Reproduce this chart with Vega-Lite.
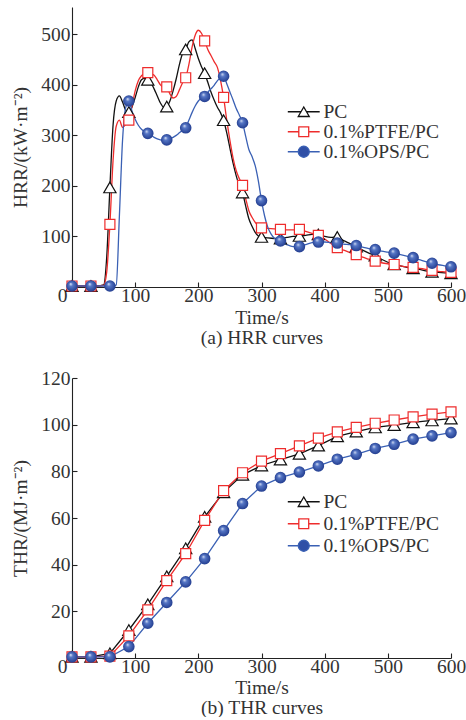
{
  "$schema": "https://vega.github.io/schema/vega-lite/v6.json",
  "padding": {"left": 10, "top": 7, "right": 0, "bottom": 0},
  "bounds": "flush",
  "spacing": 91,
  "config": {
    "font": "Liberation Serif",
    "view": {"stroke": null},
    "style": {"guide-title": {"fontWeight": "normal"}},
    "axis": {
      "grid": false,
      "domainColor": "#222",
      "domainWidth": 1.1,
      "tickColor": "#222",
      "tickWidth": 1.1,
      "tickSize": -5,
      "labelFont": "Liberation Serif",
      "labelFontSize": 19.5,
      "labelColor": "#333",
      "labelOverlap": false,
      "labelFlush": false,
      "titleFont": "Liberation Serif",
      "titleFontSize": 19.5,
      "titleFontWeight": "normal",
      "titleColor": "#333"
    },
    "legend": {
      "labelFont": "Liberation Serif",
      "labelFontSize": 19.5,
      "labelColor": "#333",
      "padding": 0
    }
  },
  "resolve": {"scale": {"color": "independent"}, "legend": {"color": "independent"}},
  "datasets": {
    "hrr": [
      {"s":"PC","t":0,"v":2},{"s":"PC","t":10,"v":2},{"s":"PC","t":20,"v":2},{"s":"PC","t":30,"v":2},{"s":"PC","t":40,"v":2},{"s":"PC","t":50,"v":4},{"s":"PC","t":55,"v":60},{"s":"PC","t":60,"v":197},{"s":"PC","t":65,"v":320},{"s":"PC","t":70,"v":368},{"s":"PC","t":75,"v":378},{"s":"PC","t":80,"v":366},{"s":"PC","t":85,"v":350},{"s":"PC","t":90,"v":346},{"s":"PC","t":95,"v":356},{"s":"PC","t":100,"v":375},{"s":"PC","t":105,"v":396},{"s":"PC","t":110,"v":410},{"s":"PC","t":115,"v":413},{"s":"PC","t":120,"v":410},{"s":"PC","t":125,"v":404},{"s":"PC","t":130,"v":392},{"s":"PC","t":135,"v":378},{"s":"PC","t":140,"v":364},{"s":"PC","t":145,"v":356},{"s":"PC","t":150,"v":357},{"s":"PC","t":155,"v":368},{"s":"PC","t":160,"v":388},{"s":"PC","t":165,"v":412},{"s":"PC","t":170,"v":440},{"s":"PC","t":175,"v":462},{"s":"PC","t":180,"v":470},{"s":"PC","t":185,"v":485},{"s":"PC","t":190,"v":489},{"s":"PC","t":195,"v":472},{"s":"PC","t":200,"v":452},{"s":"PC","t":205,"v":436},{"s":"PC","t":210,"v":423},{"s":"PC","t":215,"v":405},{"s":"PC","t":220,"v":386},{"s":"PC","t":225,"v":370},{"s":"PC","t":230,"v":356},{"s":"PC","t":235,"v":345},{"s":"PC","t":240,"v":330},{"s":"PC","t":245,"v":305},{"s":"PC","t":250,"v":275},{"s":"PC","t":255,"v":245},{"s":"PC","t":260,"v":220},{"s":"PC","t":265,"v":200},{"s":"PC","t":270,"v":187},{"s":"PC","t":275,"v":160},{"s":"PC","t":280,"v":135},{"s":"PC","t":285,"v":120},{"s":"PC","t":290,"v":108},{"s":"PC","t":295,"v":101},{"s":"PC","t":300,"v":99},{"s":"PC","t":310,"v":97},{"s":"PC","t":320,"v":96},{"s":"PC","t":330,"v":96},{"s":"PC","t":340,"v":98},{"s":"PC","t":350,"v":100},{"s":"PC","t":360,"v":101},{"s":"PC","t":370,"v":102},{"s":"PC","t":380,"v":104},{"s":"PC","t":390,"v":104},{"s":"PC","t":400,"v":100},{"s":"PC","t":410,"v":98},{"s":"PC","t":420,"v":99},{"s":"PC","t":430,"v":92},{"s":"PC","t":440,"v":86},{"s":"PC","t":450,"v":80},{"s":"PC","t":460,"v":73},{"s":"PC","t":470,"v":67},{"s":"PC","t":480,"v":62},{"s":"PC","t":490,"v":55},{"s":"PC","t":500,"v":49},{"s":"PC","t":510,"v":45},{"s":"PC","t":520,"v":42},{"s":"PC","t":530,"v":39},{"s":"PC","t":540,"v":37},{"s":"PC","t":550,"v":35},{"s":"PC","t":560,"v":32},{"s":"PC","t":570,"v":30},{"s":"PC","t":580,"v":29},{"s":"PC","t":590,"v":28},{"s":"PC","t":600,"v":27},
      {"s":"0.1%PTFE/PC","t":0,"v":2},{"s":"0.1%PTFE/PC","t":10,"v":2},{"s":"0.1%PTFE/PC","t":20,"v":2},{"s":"0.1%PTFE/PC","t":30,"v":2},{"s":"0.1%PTFE/PC","t":40,"v":2},{"s":"0.1%PTFE/PC","t":50,"v":3},{"s":"0.1%PTFE/PC","t":55,"v":30},{"s":"0.1%PTFE/PC","t":60,"v":124},{"s":"0.1%PTFE/PC","t":65,"v":250},{"s":"0.1%PTFE/PC","t":70,"v":318},{"s":"0.1%PTFE/PC","t":75,"v":330},{"s":"0.1%PTFE/PC","t":80,"v":316},{"s":"0.1%PTFE/PC","t":85,"v":322},{"s":"0.1%PTFE/PC","t":90,"v":330},{"s":"0.1%PTFE/PC","t":95,"v":358},{"s":"0.1%PTFE/PC","t":100,"v":388},{"s":"0.1%PTFE/PC","t":105,"v":408},{"s":"0.1%PTFE/PC","t":110,"v":418},{"s":"0.1%PTFE/PC","t":115,"v":422},{"s":"0.1%PTFE/PC","t":120,"v":424},{"s":"0.1%PTFE/PC","t":125,"v":422},{"s":"0.1%PTFE/PC","t":130,"v":419},{"s":"0.1%PTFE/PC","t":135,"v":410},{"s":"0.1%PTFE/PC","t":140,"v":400},{"s":"0.1%PTFE/PC","t":145,"v":395},{"s":"0.1%PTFE/PC","t":150,"v":396},{"s":"0.1%PTFE/PC","t":155,"v":382},{"s":"0.1%PTFE/PC","t":160,"v":374},{"s":"0.1%PTFE/PC","t":165,"v":377},{"s":"0.1%PTFE/PC","t":170,"v":390},{"s":"0.1%PTFE/PC","t":175,"v":404},{"s":"0.1%PTFE/PC","t":180,"v":414},{"s":"0.1%PTFE/PC","t":185,"v":440},{"s":"0.1%PTFE/PC","t":190,"v":474},{"s":"0.1%PTFE/PC","t":195,"v":498},{"s":"0.1%PTFE/PC","t":200,"v":508},{"s":"0.1%PTFE/PC","t":205,"v":502},{"s":"0.1%PTFE/PC","t":210,"v":487},{"s":"0.1%PTFE/PC","t":215,"v":470},{"s":"0.1%PTFE/PC","t":220,"v":458},{"s":"0.1%PTFE/PC","t":225,"v":446},{"s":"0.1%PTFE/PC","t":230,"v":435},{"s":"0.1%PTFE/PC","t":235,"v":410},{"s":"0.1%PTFE/PC","t":240,"v":375},{"s":"0.1%PTFE/PC","t":245,"v":330},{"s":"0.1%PTFE/PC","t":250,"v":290},{"s":"0.1%PTFE/PC","t":255,"v":255},{"s":"0.1%PTFE/PC","t":260,"v":230},{"s":"0.1%PTFE/PC","t":265,"v":214},{"s":"0.1%PTFE/PC","t":270,"v":201},{"s":"0.1%PTFE/PC","t":275,"v":175},{"s":"0.1%PTFE/PC","t":280,"v":151},{"s":"0.1%PTFE/PC","t":285,"v":138},{"s":"0.1%PTFE/PC","t":290,"v":128},{"s":"0.1%PTFE/PC","t":295,"v":121},{"s":"0.1%PTFE/PC","t":300,"v":117},{"s":"0.1%PTFE/PC","t":310,"v":116},{"s":"0.1%PTFE/PC","t":320,"v":115},{"s":"0.1%PTFE/PC","t":330,"v":114},{"s":"0.1%PTFE/PC","t":340,"v":113},{"s":"0.1%PTFE/PC","t":350,"v":113},{"s":"0.1%PTFE/PC","t":360,"v":114},{"s":"0.1%PTFE/PC","t":370,"v":110},{"s":"0.1%PTFE/PC","t":380,"v":106},{"s":"0.1%PTFE/PC","t":390,"v":102},{"s":"0.1%PTFE/PC","t":400,"v":95},{"s":"0.1%PTFE/PC","t":410,"v":86},{"s":"0.1%PTFE/PC","t":420,"v":78},{"s":"0.1%PTFE/PC","t":430,"v":73},{"s":"0.1%PTFE/PC","t":440,"v":68},{"s":"0.1%PTFE/PC","t":450,"v":64},{"s":"0.1%PTFE/PC","t":460,"v":59},{"s":"0.1%PTFE/PC","t":470,"v":55},{"s":"0.1%PTFE/PC","t":480,"v":51},{"s":"0.1%PTFE/PC","t":490,"v":48},{"s":"0.1%PTFE/PC","t":500,"v":46},{"s":"0.1%PTFE/PC","t":510,"v":44.5},{"s":"0.1%PTFE/PC","t":520,"v":42},{"s":"0.1%PTFE/PC","t":530,"v":40},{"s":"0.1%PTFE/PC","t":540,"v":39},{"s":"0.1%PTFE/PC","t":550,"v":37},{"s":"0.1%PTFE/PC","t":560,"v":35},{"s":"0.1%PTFE/PC","t":570,"v":33},{"s":"0.1%PTFE/PC","t":580,"v":31},{"s":"0.1%PTFE/PC","t":590,"v":30},{"s":"0.1%PTFE/PC","t":600,"v":29},
      {"s":"0.1%OPS/PC","t":0,"v":2},{"s":"0.1%OPS/PC","t":10,"v":2},{"s":"0.1%OPS/PC","t":20,"v":2},{"s":"0.1%OPS/PC","t":30,"v":2},{"s":"0.1%OPS/PC","t":40,"v":2},{"s":"0.1%OPS/PC","t":50,"v":2},{"s":"0.1%OPS/PC","t":60,"v":2},{"s":"0.1%OPS/PC","t":65,"v":2},{"s":"0.1%OPS/PC","t":70,"v":4},{"s":"0.1%OPS/PC","t":75,"v":140},{"s":"0.1%OPS/PC","t":80,"v":290},{"s":"0.1%OPS/PC","t":85,"v":355},{"s":"0.1%OPS/PC","t":90,"v":368},{"s":"0.1%OPS/PC","t":95,"v":348},{"s":"0.1%OPS/PC","t":100,"v":332},{"s":"0.1%OPS/PC","t":105,"v":320},{"s":"0.1%OPS/PC","t":110,"v":312},{"s":"0.1%OPS/PC","t":115,"v":307},{"s":"0.1%OPS/PC","t":120,"v":304},{"s":"0.1%OPS/PC","t":125,"v":300},{"s":"0.1%OPS/PC","t":130,"v":296},{"s":"0.1%OPS/PC","t":135,"v":293},{"s":"0.1%OPS/PC","t":140,"v":291},{"s":"0.1%OPS/PC","t":145,"v":290},{"s":"0.1%OPS/PC","t":150,"v":291},{"s":"0.1%OPS/PC","t":155,"v":293},{"s":"0.1%OPS/PC","t":160,"v":296},{"s":"0.1%OPS/PC","t":165,"v":300},{"s":"0.1%OPS/PC","t":170,"v":305},{"s":"0.1%OPS/PC","t":175,"v":310},{"s":"0.1%OPS/PC","t":180,"v":315},{"s":"0.1%OPS/PC","t":185,"v":330},{"s":"0.1%OPS/PC","t":190,"v":345},{"s":"0.1%OPS/PC","t":195,"v":358},{"s":"0.1%OPS/PC","t":200,"v":368},{"s":"0.1%OPS/PC","t":205,"v":374},{"s":"0.1%OPS/PC","t":210,"v":377},{"s":"0.1%OPS/PC","t":215,"v":385},{"s":"0.1%OPS/PC","t":220,"v":392},{"s":"0.1%OPS/PC","t":225,"v":399},{"s":"0.1%OPS/PC","t":230,"v":408},{"s":"0.1%OPS/PC","t":235,"v":414},{"s":"0.1%OPS/PC","t":240,"v":417},{"s":"0.1%OPS/PC","t":245,"v":402},{"s":"0.1%OPS/PC","t":250,"v":386},{"s":"0.1%OPS/PC","t":255,"v":370},{"s":"0.1%OPS/PC","t":260,"v":353},{"s":"0.1%OPS/PC","t":265,"v":340},{"s":"0.1%OPS/PC","t":270,"v":325},{"s":"0.1%OPS/PC","t":275,"v":298},{"s":"0.1%OPS/PC","t":280,"v":272},{"s":"0.1%OPS/PC","t":285,"v":258},{"s":"0.1%OPS/PC","t":290,"v":240},{"s":"0.1%OPS/PC","t":295,"v":210},{"s":"0.1%OPS/PC","t":300,"v":171},{"s":"0.1%OPS/PC","t":305,"v":140},{"s":"0.1%OPS/PC","t":310,"v":118},{"s":"0.1%OPS/PC","t":315,"v":105},{"s":"0.1%OPS/PC","t":320,"v":97},{"s":"0.1%OPS/PC","t":325,"v":93},{"s":"0.1%OPS/PC","t":330,"v":91},{"s":"0.1%OPS/PC","t":340,"v":84},{"s":"0.1%OPS/PC","t":350,"v":80},{"s":"0.1%OPS/PC","t":360,"v":80},{"s":"0.1%OPS/PC","t":370,"v":84},{"s":"0.1%OPS/PC","t":380,"v":88},{"s":"0.1%OPS/PC","t":390,"v":89},{"s":"0.1%OPS/PC","t":400,"v":89},{"s":"0.1%OPS/PC","t":410,"v":88},{"s":"0.1%OPS/PC","t":420,"v":87},{"s":"0.1%OPS/PC","t":430,"v":85},{"s":"0.1%OPS/PC","t":440,"v":84},{"s":"0.1%OPS/PC","t":450,"v":82},{"s":"0.1%OPS/PC","t":460,"v":79},{"s":"0.1%OPS/PC","t":470,"v":76},{"s":"0.1%OPS/PC","t":480,"v":74},{"s":"0.1%OPS/PC","t":490,"v":71},{"s":"0.1%OPS/PC","t":500,"v":69},{"s":"0.1%OPS/PC","t":510,"v":67},{"s":"0.1%OPS/PC","t":520,"v":64},{"s":"0.1%OPS/PC","t":530,"v":61},{"s":"0.1%OPS/PC","t":540,"v":58},{"s":"0.1%OPS/PC","t":550,"v":54},{"s":"0.1%OPS/PC","t":560,"v":50},{"s":"0.1%OPS/PC","t":570,"v":47},{"s":"0.1%OPS/PC","t":580,"v":44},{"s":"0.1%OPS/PC","t":590,"v":42},{"s":"0.1%OPS/PC","t":600,"v":40}
    ],
    "thr": [
      {"s":"PC","t":0,"v":0.5},{"s":"PC","t":30,"v":0.5},{"s":"PC","t":60,"v":2},{"s":"PC","t":90,"v":12},{"s":"PC","t":120,"v":23},{"s":"PC","t":150,"v":35},{"s":"PC","t":180,"v":47},{"s":"PC","t":210,"v":60.5},{"s":"PC","t":240,"v":71},{"s":"PC","t":270,"v":78.5},{"s":"PC","t":300,"v":82.5},{"s":"PC","t":330,"v":85},{"s":"PC","t":360,"v":87.5},{"s":"PC","t":390,"v":91},{"s":"PC","t":420,"v":95},{"s":"PC","t":450,"v":97},{"s":"PC","t":480,"v":98.8},{"s":"PC","t":510,"v":99.8},{"s":"PC","t":540,"v":101},{"s":"PC","t":570,"v":101.8},{"s":"PC","t":600,"v":102.6},
      {"s":"0.1%PTFE/PC","t":0,"v":0.5},{"s":"0.1%PTFE/PC","t":30,"v":0.5},{"s":"0.1%PTFE/PC","t":60,"v":0.8},{"s":"0.1%PTFE/PC","t":90,"v":9.5},{"s":"0.1%PTFE/PC","t":120,"v":20.6},{"s":"0.1%PTFE/PC","t":150,"v":33.2},{"s":"0.1%PTFE/PC","t":180,"v":44.7},{"s":"0.1%PTFE/PC","t":210,"v":59},{"s":"0.1%PTFE/PC","t":240,"v":71.7},{"s":"0.1%PTFE/PC","t":270,"v":79.4},{"s":"0.1%PTFE/PC","t":300,"v":84.4},{"s":"0.1%PTFE/PC","t":330,"v":87.6},{"s":"0.1%PTFE/PC","t":360,"v":90.9},{"s":"0.1%PTFE/PC","t":390,"v":94.2},{"s":"0.1%PTFE/PC","t":420,"v":96.9},{"s":"0.1%PTFE/PC","t":450,"v":98.8},{"s":"0.1%PTFE/PC","t":480,"v":100.6},{"s":"0.1%PTFE/PC","t":510,"v":102},{"s":"0.1%PTFE/PC","t":540,"v":103.3},{"s":"0.1%PTFE/PC","t":570,"v":104.5},{"s":"0.1%PTFE/PC","t":600,"v":105.5},
      {"s":"0.1%OPS/PC","t":0,"v":0.5},{"s":"0.1%OPS/PC","t":30,"v":0.5},{"s":"0.1%OPS/PC","t":60,"v":0.5},{"s":"0.1%OPS/PC","t":90,"v":4.9},{"s":"0.1%OPS/PC","t":120,"v":14.9},{"s":"0.1%OPS/PC","t":150,"v":23.8},{"s":"0.1%OPS/PC","t":180,"v":32.6},{"s":"0.1%OPS/PC","t":210,"v":42.6},{"s":"0.1%OPS/PC","t":240,"v":54.6},{"s":"0.1%OPS/PC","t":270,"v":66.2},{"s":"0.1%OPS/PC","t":300,"v":73.7},{"s":"0.1%OPS/PC","t":330,"v":77.3},{"s":"0.1%OPS/PC","t":360,"v":79.7},{"s":"0.1%OPS/PC","t":390,"v":82.3},{"s":"0.1%OPS/PC","t":420,"v":85.2},{"s":"0.1%OPS/PC","t":450,"v":87.3},{"s":"0.1%OPS/PC","t":480,"v":89.8},{"s":"0.1%OPS/PC","t":510,"v":91.6},{"s":"0.1%OPS/PC","t":540,"v":93.8},{"s":"0.1%OPS/PC","t":570,"v":95.2},{"s":"0.1%OPS/PC","t":600,"v":96.6}
    ]
  },
  "vconcat": [
    {
      "width": 379,
      "height": 280,
      "data": {"name": "hrr"},
      "encoding": {
        "x": {"field": "t", "type": "quantitative", "scale": {"domain": [0, 600], "nice": false},
          "axis": {"values": [0,100,200,300,400,500,600], "title": ["Time/s", "(a) HRR curves"], "titleLineHeight": 19.5, "titlePadding": 4, "labelPadding": 4,
            "labelOffset": {"condition": {"test": "datum.value === 0", "value": -10}, "value": 0}}},
        "y": {"field": "v", "type": "quantitative", "scale": {"domain": [0, 554], "nice": false},
          "axis": {"values": [100,200,300,400,500], "title": "HRR/(kW·m⁻²)", "titlePadding": 10, "labelPadding": 7}}
      },
      "layer": [
        {
          "mark": {"type": "line", "interpolate": "monotone", "strokeWidth": 1.3},
          "encoding": {
            "color": {"field": "s", "type": "nominal",
              "scale": {"domain": ["PC", "0.1%PTFE/PC", "0.1%OPS/PC"], "range": ["#111111", "#ee2c2c", "#3a60b4"]},
              "legend": {"title": null, "orient": "none", "legendX": 222, "legendY": 95, "symbolSize": 121, "labelOffset": 10, "rowPadding": -1,
                "symbolType": "circle",
                "encode": {"symbols": {"update": {
                  "shape": {"signal": "datum.value === 'PC' ? 'M-2.9,0H-0.5M0.5,0H2.9M0,-0.866L-1,0.866L1,0.866Z' : datum.value === '0.1%PTFE/PC' ? 'M-2.9,0H-0.9M0.9,0H2.9M-0.9,-0.9H0.9V0.9H-0.9Z' : 'M-2.9,0H-1M1,0H2.9M-1,0A1,1,0,1,1,1,0A1,1,0,1,1,-1,0Z'"},
                  "fill": {"signal": "datum.value === '0.1%OPS/PC' ? '#2f4fa6' : '#ffffff'"},
                  "stroke": {"signal": "datum.value === 'PC' ? '#111111' : datum.value === '0.1%PTFE/PC' ? '#ee2c2c' : '#3a60b4'"},
                  "strokeWidth": {"value": 1.3},
                  "opacity": {"value": 1}
                }}}}
            }
          }
        },
        {
          "transform": [{"filter": "datum.s === 'PC' && datum.t % 30 === 0"}],
          "mark": {"type": "point", "shape": "triangle-up", "size": 150, "filled": true, "fill": "#ffffff", "stroke": "#111111", "strokeWidth": 1.2, "opacity": 1}
        },
        {
          "transform": [{"filter": "datum.s === '0.1%PTFE/PC' && datum.t % 30 === 0"}],
          "mark": {"type": "point", "shape": "square", "size": 100, "filled": true, "fill": "#ffffff", "stroke": "#ee2c2c", "strokeWidth": 1.2, "opacity": 1}
        },
        {
          "transform": [{"filter": "datum.s === '0.1%OPS/PC' && datum.t % 30 === 0"}],
          "mark": {"type": "circle", "size": 135, "opacity": 1,
            "fill": {"gradient": "radial", "x1": 0.38, "y1": 0.32, "r1": 0, "x2": 0.5, "y2": 0.5, "r2": 0.55,
              "stops": [{"offset": 0, "color": "#e4eaf8"}, {"offset": 0.3, "color": "#5677c6"}, {"offset": 1, "color": "#1d378a"}]}}
        }
      ]
    },
    {
      "width": 379,
      "height": 280,
      "data": {"name": "thr"},
      "encoding": {
        "x": {"field": "t", "type": "quantitative", "scale": {"domain": [0, 600], "nice": false},
          "axis": {"values": [0,100,200,300,400,500,600], "title": ["Time/s", "(b) THR curves"], "titleLineHeight": 19.5, "titlePadding": 3, "labelPadding": 4,
            "labelOffset": {"condition": {"test": "datum.value === 0", "value": -10}, "value": 0}}},
        "y": {"field": "v", "type": "quantitative", "scale": {"domain": [0, 120], "nice": false},
          "axis": {"values": [20,40,60,80,100,120], "title": "THR/(MJ·m⁻²)", "titlePadding": 10, "labelPadding": 7}}
      },
      "layer": [
        {
          "mark": {"type": "line", "strokeWidth": 1.3},
          "encoding": {
            "color": {"field": "s", "type": "nominal",
              "scale": {"domain": ["PC", "0.1%PTFE/PC", "0.1%OPS/PC"], "range": ["#111111", "#ee2c2c", "#3a60b4"]},
              "legend": {"title": null, "orient": "none", "legendX": 222, "legendY": 114, "symbolSize": 121, "labelOffset": 10, "rowPadding": 1,
                "symbolType": "circle",
                "encode": {"symbols": {"update": {
                  "shape": {"signal": "datum.value === 'PC' ? 'M-2.9,0H-0.5M0.5,0H2.9M0,-0.866L-1,0.866L1,0.866Z' : datum.value === '0.1%PTFE/PC' ? 'M-2.9,0H-0.9M0.9,0H2.9M-0.9,-0.9H0.9V0.9H-0.9Z' : 'M-2.9,0H-1M1,0H2.9M-1,0A1,1,0,1,1,1,0A1,1,0,1,1,-1,0Z'"},
                  "fill": {"signal": "datum.value === '0.1%OPS/PC' ? '#2f4fa6' : '#ffffff'"},
                  "stroke": {"signal": "datum.value === 'PC' ? '#111111' : datum.value === '0.1%PTFE/PC' ? '#ee2c2c' : '#3a60b4'"},
                  "strokeWidth": {"value": 1.3},
                  "opacity": {"value": 1}
                }}}}
            }
          }
        },
        {
          "transform": [{"filter": "datum.s === 'PC'"}],
          "mark": {"type": "point", "shape": "triangle-up", "size": 150, "filled": true, "fill": "#ffffff", "stroke": "#111111", "strokeWidth": 1.2, "opacity": 1}
        },
        {
          "transform": [{"filter": "datum.s === '0.1%PTFE/PC'"}],
          "mark": {"type": "point", "shape": "square", "size": 100, "filled": true, "fill": "#ffffff", "stroke": "#ee2c2c", "strokeWidth": 1.2, "opacity": 1}
        },
        {
          "transform": [{"filter": "datum.s === '0.1%OPS/PC'"}],
          "mark": {"type": "circle", "size": 135, "opacity": 1,
            "fill": {"gradient": "radial", "x1": 0.38, "y1": 0.32, "r1": 0, "x2": 0.5, "y2": 0.5, "r2": 0.55,
              "stops": [{"offset": 0, "color": "#e4eaf8"}, {"offset": 0.3, "color": "#5677c6"}, {"offset": 1, "color": "#1d378a"}]}}
        }
      ]
    }
  ]
}
